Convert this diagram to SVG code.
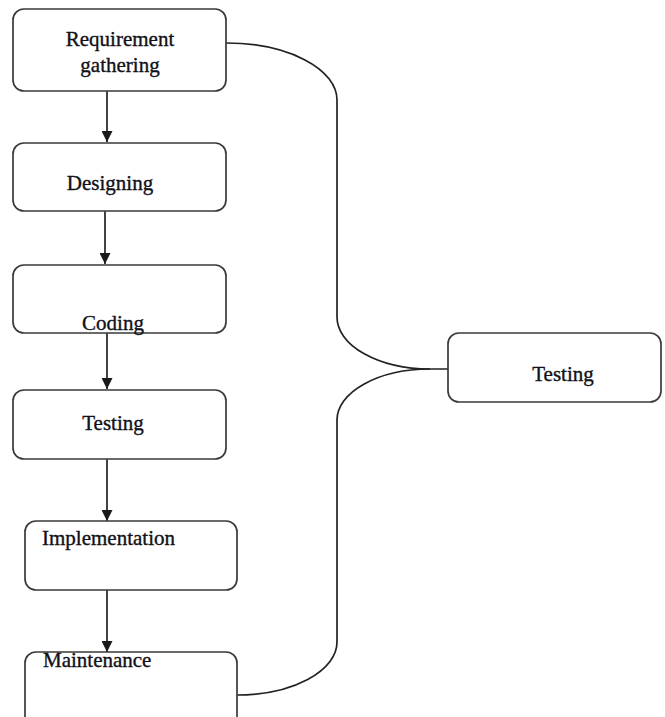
<svg xmlns="http://www.w3.org/2000/svg" width="665" height="717" viewBox="0 0 665 717">
<defs>
<style>
.box{fill:#fff;stroke:#3a3a3a;stroke-width:1.7}
.lbl{font-family:"Liberation Serif","Times New Roman",serif;font-size:21px;fill:#111118;stroke:#111118;stroke-width:0.35}
.ln{fill:none;stroke:#222;stroke-width:1.7}
</style>
<marker id="ah" viewBox="0 0 10 10" refX="10" refY="5" markerWidth="11" markerHeight="11" markerUnits="userSpaceOnUse" orient="auto">
<path d="M0,0 L10,5 L0,10 z" fill="#1a1a1a"/>
</marker>
</defs>
<rect width="665" height="717" fill="#fff"/>
<g id="connectors">
<line class="ln" x1="107" y1="91" x2="107" y2="142" marker-end="url(#ah)"/>
<line class="ln" x1="105" y1="211" x2="105" y2="264" marker-end="url(#ah)"/>
<line class="ln" x1="107" y1="333" x2="107" y2="389" marker-end="url(#ah)"/>
<line class="ln" x1="107" y1="459" x2="107" y2="521" marker-end="url(#ah)"/>
<line class="ln" x1="107" y1="590" x2="107" y2="652" marker-end="url(#ah)"/>
<path class="ln" d="M226,43 A111,57 0 0 1 337,100 L337,317 A93,52 0 0 0 430,369 L448,369"/>
<path class="ln" d="M430,369 A93,51 0 0 0 337,420 L337,642 A100,53 0 0 1 237,695"/>
</g>
<g id="req">
<rect class="box" x="13" y="9" width="213" height="82" rx="11"/>
<text class="lbl" x="120" y="46" text-anchor="middle">Requirement</text>
<text class="lbl" x="120" y="72" text-anchor="middle">gathering</text>
</g>
<g id="design">
<rect class="box" x="13" y="143" width="213" height="68" rx="11"/>
<text class="lbl" x="110" y="190" text-anchor="middle">Designing</text>
</g>
<g id="coding">
<rect class="box" x="13" y="265" width="213" height="68" rx="11"/>
<text class="lbl" x="113" y="330" text-anchor="middle">Coding</text>
</g>
<g id="testing">
<rect class="box" x="13" y="390" width="213" height="69" rx="11"/>
<text class="lbl" x="113" y="430" text-anchor="middle">Testing</text>
</g>
<g id="impl">
<rect class="box" x="25" y="521" width="212" height="69" rx="11"/>
<text class="lbl" x="42" y="545">Implementation</text>
</g>
<g id="maint">
<rect class="box" x="25" y="652" width="212" height="80" rx="11"/>
<text class="lbl" x="43" y="667">Maintenance</text>
</g>
<g id="testing2">
<rect class="box" x="448" y="333" width="213" height="69" rx="11"/>
<text class="lbl" x="563" y="381" text-anchor="middle">Testing</text>
</g>
</svg>
